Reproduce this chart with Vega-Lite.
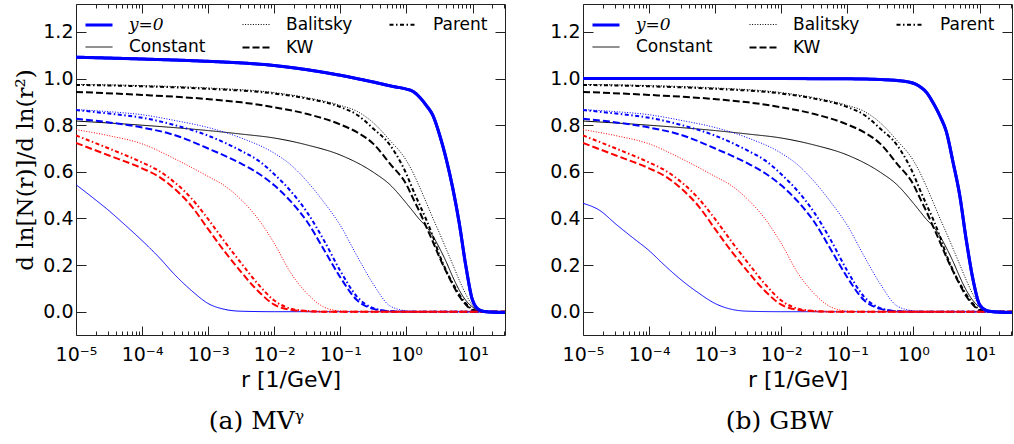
{
  "$schema": "https://vega.github.io/schema/vega-lite/v6.json",
  "background": "white",
  "padding": {"left": 14, "top": 3, "right": 3, "bottom": 4},
  "bounds": "flush",
  "spacing": 78,
  "resolve": {"scale": {"color": "independent", "strokeDash": "independent", "strokeWidth": "independent"}},
  "config": {
    "view": {"stroke": "#222222", "strokeWidth": 1},
    "axis": {"grid": false, "domain": false, "tickColor": "#222222", "tickWidth": 1, "labelFont": "DejaVu Sans", "labelFontSize": 19, "labelColor": "black", "titleColor": "black", "titleFontWeight": "normal", "labelFlush": false, "labelOverlap": false},
    "legend": {"orient": "none", "legendX": 8, "legendY": 6, "columns": 3, "columnPadding": 32, "rowPadding": -16, "padding": 0, "symbolType": "stroke", "symbolSize": 729, "symbolStrokeColor": "black", "labelFont": "DejaVu Sans", "labelFontSize": 17, "labelColor": "black", "labelOffset": 15}
  },
  "datasets": {
    "d": [
      {"p":"ab","c":"k","m":"Constant","r":0.00001,"v":0.818},
      {"p":"ab","c":"k","m":"Constant","r":0.0001,"v":0.800},
      {"p":"ab","c":"k","m":"Constant","r":0.001,"v":0.777},
      {"p":"ab","c":"k","m":"Constant","r":0.003162,"v":0.762},
      {"p":"ab","c":"k","m":"Constant","r":0.01,"v":0.745},
      {"p":"ab","c":"k","m":"Constant","r":0.03162,"v":0.715},
      {"p":"ab","c":"k","m":"Constant","r":0.1,"v":0.672},
      {"p":"ab","c":"k","m":"Constant","r":0.3162,"v":0.598},
      {"p":"ab","c":"k","m":"Constant","r":0.5623,"v":0.545},
      {"p":"ab","c":"k","m":"Constant","r":1,"v":0.465},
      {"p":"ab","c":"k","m":"Constant","r":1.259,"v":0.43},
      {"p":"ab","c":"k","m":"Constant","r":1.585,"v":0.395},
      {"p":"ab","c":"k","m":"Constant","r":1.995,"v":0.365},
      {"p":"ab","c":"k","m":"Constant","r":2.512,"v":0.325},
      {"p":"ab","c":"k","m":"Constant","r":3.162,"v":0.273},
      {"p":"ab","c":"k","m":"Constant","r":3.981,"v":0.215},
      {"p":"ab","c":"k","m":"Constant","r":5.012,"v":0.15},
      {"p":"ab","c":"k","m":"Constant","r":6.31,"v":0.092},
      {"p":"ab","c":"k","m":"Constant","r":7.943,"v":0.048},
      {"p":"ab","c":"k","m":"Constant","r":10,"v":0.02},
      {"p":"ab","c":"k","m":"Constant","r":12.59,"v":0.005},
      {"p":"ab","c":"k","m":"Constant","r":15.85,"v":0},
      {"p":"ab","c":"k","m":"Constant","r":31,"v":0},

      {"p":"ab","c":"k","m":"Balitsky","r":0.00001,"v":0.975},
      {"p":"ab","c":"k","m":"Balitsky","r":0.0001,"v":0.970},
      {"p":"ab","c":"k","m":"Balitsky","r":0.001,"v":0.960},
      {"p":"ab","c":"k","m":"Balitsky","r":0.01,"v":0.940},
      {"p":"ab","c":"k","m":"Balitsky","r":0.03162,"v":0.918},
      {"p":"ab","c":"k","m":"Balitsky","r":0.1,"v":0.885},
      {"p":"ab","c":"k","m":"Balitsky","r":0.1778,"v":0.86},
      {"p":"ab","c":"k","m":"Balitsky","r":0.3162,"v":0.81},
      {"p":"ab","c":"k","m":"Balitsky","r":0.5623,"v":0.735},
      {"p":"ab","c":"k","m":"Balitsky","r":1,"v":0.648},
      {"p":"ab","c":"k","m":"Balitsky","r":1.259,"v":0.596},
      {"p":"ab","c":"k","m":"Balitsky","r":1.585,"v":0.534},
      {"p":"ab","c":"k","m":"Balitsky","r":1.995,"v":0.469},
      {"p":"ab","c":"k","m":"Balitsky","r":2.512,"v":0.401},
      {"p":"ab","c":"k","m":"Balitsky","r":3.162,"v":0.337},
      {"p":"ab","c":"k","m":"Balitsky","r":3.981,"v":0.27},
      {"p":"ab","c":"k","m":"Balitsky","r":5.012,"v":0.203},
      {"p":"ab","c":"k","m":"Balitsky","r":6.31,"v":0.135},
      {"p":"ab","c":"k","m":"Balitsky","r":7.943,"v":0.074},
      {"p":"ab","c":"k","m":"Balitsky","r":10,"v":0.027},
      {"p":"ab","c":"k","m":"Balitsky","r":12.59,"v":0.004},
      {"p":"ab","c":"k","m":"Balitsky","r":15.85,"v":0},
      {"p":"ab","c":"k","m":"Balitsky","r":31,"v":0},

      {"p":"ab","c":"k","m":"Parent","r":0.00001,"v":0.973},
      {"p":"ab","c":"k","m":"Parent","r":0.0001,"v":0.967},
      {"p":"ab","c":"k","m":"Parent","r":0.001,"v":0.956},
      {"p":"ab","c":"k","m":"Parent","r":0.01,"v":0.936},
      {"p":"ab","c":"k","m":"Parent","r":0.03162,"v":0.914},
      {"p":"ab","c":"k","m":"Parent","r":0.1,"v":0.878},
      {"p":"ab","c":"k","m":"Parent","r":0.1778,"v":0.845},
      {"p":"ab","c":"k","m":"Parent","r":0.3162,"v":0.785},
      {"p":"ab","c":"k","m":"Parent","r":0.5623,"v":0.715},
      {"p":"ab","c":"k","m":"Parent","r":1,"v":0.59},
      {"p":"ab","c":"k","m":"Parent","r":1.259,"v":0.522},
      {"p":"ab","c":"k","m":"Parent","r":1.585,"v":0.458},
      {"p":"ab","c":"k","m":"Parent","r":1.995,"v":0.395},
      {"p":"ab","c":"k","m":"Parent","r":2.512,"v":0.323},
      {"p":"ab","c":"k","m":"Parent","r":3.162,"v":0.243},
      {"p":"ab","c":"k","m":"Parent","r":3.981,"v":0.177},
      {"p":"ab","c":"k","m":"Parent","r":5.012,"v":0.122},
      {"p":"ab","c":"k","m":"Parent","r":6.31,"v":0.074},
      {"p":"ab","c":"k","m":"Parent","r":7.943,"v":0.035},
      {"p":"ab","c":"k","m":"Parent","r":10,"v":0.01},
      {"p":"ab","c":"k","m":"Parent","r":12.59,"v":0.002},
      {"p":"ab","c":"k","m":"Parent","r":15.85,"v":0},
      {"p":"ab","c":"k","m":"Parent","r":31,"v":0},

      {"p":"ab","c":"k","m":"KW","r":0.00001,"v":0.943},
      {"p":"ab","c":"k","m":"KW","r":0.0001,"v":0.930},
      {"p":"ab","c":"k","m":"KW","r":0.001,"v":0.912},
      {"p":"ab","c":"k","m":"KW","r":0.003162,"v":0.898},
      {"p":"ab","c":"k","m":"KW","r":0.01,"v":0.877},
      {"p":"ab","c":"k","m":"KW","r":0.03162,"v":0.848},
      {"p":"ab","c":"k","m":"KW","r":0.1,"v":0.803},
      {"p":"ab","c":"k","m":"KW","r":0.1778,"v":0.77},
      {"p":"ab","c":"k","m":"KW","r":0.3162,"v":0.72},
      {"p":"ab","c":"k","m":"KW","r":0.5623,"v":0.635},
      {"p":"ab","c":"k","m":"KW","r":1,"v":0.545},
      {"p":"ab","c":"k","m":"KW","r":1.259,"v":0.486},
      {"p":"ab","c":"k","m":"KW","r":1.585,"v":0.428},
      {"p":"ab","c":"k","m":"KW","r":1.995,"v":0.364},
      {"p":"ab","c":"k","m":"KW","r":2.512,"v":0.30},
      {"p":"ab","c":"k","m":"KW","r":3.162,"v":0.233},
      {"p":"ab","c":"k","m":"KW","r":3.981,"v":0.173},
      {"p":"ab","c":"k","m":"KW","r":5.012,"v":0.117},
      {"p":"ab","c":"k","m":"KW","r":6.31,"v":0.066},
      {"p":"ab","c":"k","m":"KW","r":7.943,"v":0.03},
      {"p":"ab","c":"k","m":"KW","r":10,"v":0.006},
      {"p":"ab","c":"k","m":"KW","r":12.59,"v":0.001},
      {"p":"ab","c":"k","m":"KW","r":15.85,"v":0},
      {"p":"ab","c":"k","m":"KW","r":31,"v":0},

      {"p":"a","c":"b","m":"Constant","r":0.00001,"v":0.545},
      {"p":"a","c":"b","m":"Constant","r":0.00001778,"v":0.49},
      {"p":"a","c":"b","m":"Constant","r":0.00003162,"v":0.433},
      {"p":"a","c":"b","m":"Constant","r":0.00005623,"v":0.37},
      {"p":"a","c":"b","m":"Constant","r":0.0001,"v":0.305},
      {"p":"a","c":"b","m":"Constant","r":0.0001778,"v":0.235},
      {"p":"a","c":"b","m":"Constant","r":0.0003162,"v":0.157},
      {"p":"a","c":"b","m":"Constant","r":0.0005623,"v":0.09},
      {"p":"a","c":"b","m":"Constant","r":0.001,"v":0.035},
      {"p":"a","c":"b","m":"Constant","r":0.001778,"v":0.01},
      {"p":"a","c":"b","m":"Constant","r":0.003162,"v":0.002},
      {"p":"a","c":"b","m":"Constant","r":0.01,"v":0},
      {"p":"a","c":"b","m":"Constant","r":31,"v":0},

      {"p":"b","c":"b","m":"Constant","r":0.00001,"v":0.465},
      {"p":"b","c":"b","m":"Constant","r":0.00001778,"v":0.435},
      {"p":"b","c":"b","m":"Constant","r":0.00003162,"v":0.375},
      {"p":"b","c":"b","m":"Constant","r":0.00005623,"v":0.318},
      {"p":"b","c":"b","m":"Constant","r":0.0001,"v":0.262},
      {"p":"b","c":"b","m":"Constant","r":0.0001778,"v":0.195},
      {"p":"b","c":"b","m":"Constant","r":0.0003162,"v":0.133},
      {"p":"b","c":"b","m":"Constant","r":0.0005623,"v":0.08},
      {"p":"b","c":"b","m":"Constant","r":0.001,"v":0.035},
      {"p":"b","c":"b","m":"Constant","r":0.001778,"v":0.01},
      {"p":"b","c":"b","m":"Constant","r":0.003162,"v":0.002},
      {"p":"b","c":"b","m":"Constant","r":0.01,"v":0},
      {"p":"b","c":"b","m":"Constant","r":31,"v":0},

      {"p":"ab","c":"b","m":"Balitsky","r":0.00001,"v":0.867},
      {"p":"ab","c":"b","m":"Balitsky","r":0.00003162,"v":0.858},
      {"p":"ab","c":"b","m":"Balitsky","r":0.0001,"v":0.845},
      {"p":"ab","c":"b","m":"Balitsky","r":0.0003162,"v":0.82},
      {"p":"ab","c":"b","m":"Balitsky","r":0.001,"v":0.79},
      {"p":"ab","c":"b","m":"Balitsky","r":0.003162,"v":0.745},
      {"p":"ab","c":"b","m":"Balitsky","r":0.01,"v":0.68},
      {"p":"ab","c":"b","m":"Balitsky","r":0.01778,"v":0.63},
      {"p":"ab","c":"b","m":"Balitsky","r":0.03162,"v":0.558},
      {"p":"ab","c":"b","m":"Balitsky","r":0.05623,"v":0.47},
      {"p":"ab","c":"b","m":"Balitsky","r":0.1,"v":0.37},
      {"p":"ab","c":"b","m":"Balitsky","r":0.1778,"v":0.24},
      {"p":"ab","c":"b","m":"Balitsky","r":0.3162,"v":0.118},
      {"p":"ab","c":"b","m":"Balitsky","r":0.5623,"v":0.025},
      {"p":"ab","c":"b","m":"Balitsky","r":1,"v":0.004},
      {"p":"ab","c":"b","m":"Balitsky","r":1.995,"v":0},
      {"p":"ab","c":"b","m":"Balitsky","r":31,"v":0},

      {"p":"ab","c":"b","m":"Parent","r":0.00001,"v":0.865},
      {"p":"ab","c":"b","m":"Parent","r":0.00003162,"v":0.85},
      {"p":"ab","c":"b","m":"Parent","r":0.0001,"v":0.832},
      {"p":"ab","c":"b","m":"Parent","r":0.0003162,"v":0.80},
      {"p":"ab","c":"b","m":"Parent","r":0.001,"v":0.755},
      {"p":"ab","c":"b","m":"Parent","r":0.003162,"v":0.69},
      {"p":"ab","c":"b","m":"Parent","r":0.005623,"v":0.65},
      {"p":"ab","c":"b","m":"Parent","r":0.01,"v":0.59},
      {"p":"ab","c":"b","m":"Parent","r":0.01778,"v":0.517},
      {"p":"ab","c":"b","m":"Parent","r":0.03162,"v":0.425},
      {"p":"ab","c":"b","m":"Parent","r":0.05623,"v":0.307},
      {"p":"ab","c":"b","m":"Parent","r":0.1,"v":0.175},
      {"p":"ab","c":"b","m":"Parent","r":0.1778,"v":0.065},
      {"p":"ab","c":"b","m":"Parent","r":0.3162,"v":0.015},
      {"p":"ab","c":"b","m":"Parent","r":0.5623,"v":0.002},
      {"p":"ab","c":"b","m":"Parent","r":1,"v":0},
      {"p":"ab","c":"b","m":"Parent","r":31,"v":0},

      {"p":"ab","c":"b","m":"KW","r":0.00001,"v":0.828},
      {"p":"ab","c":"b","m":"KW","r":0.00003162,"v":0.812},
      {"p":"ab","c":"b","m":"KW","r":0.0001,"v":0.79},
      {"p":"ab","c":"b","m":"KW","r":0.0003162,"v":0.757},
      {"p":"ab","c":"b","m":"KW","r":0.001,"v":0.70},
      {"p":"ab","c":"b","m":"KW","r":0.003162,"v":0.635},
      {"p":"ab","c":"b","m":"KW","r":0.005623,"v":0.595},
      {"p":"ab","c":"b","m":"KW","r":0.01,"v":0.542},
      {"p":"ab","c":"b","m":"KW","r":0.01778,"v":0.473},
      {"p":"ab","c":"b","m":"KW","r":0.03162,"v":0.385},
      {"p":"ab","c":"b","m":"KW","r":0.05623,"v":0.267},
      {"p":"ab","c":"b","m":"KW","r":0.1,"v":0.147},
      {"p":"ab","c":"b","m":"KW","r":0.1778,"v":0.05},
      {"p":"ab","c":"b","m":"KW","r":0.3162,"v":0.012},
      {"p":"ab","c":"b","m":"KW","r":0.5623,"v":0.002},
      {"p":"ab","c":"b","m":"KW","r":1,"v":0},
      {"p":"ab","c":"b","m":"KW","r":31,"v":0},

      {"p":"ab","c":"r","m":"Balitsky","r":0.00001,"v":0.781},
      {"p":"ab","c":"r","m":"Balitsky","r":0.00003162,"v":0.755},
      {"p":"ab","c":"r","m":"Balitsky","r":0.0001,"v":0.72},
      {"p":"ab","c":"r","m":"Balitsky","r":0.0003162,"v":0.655},
      {"p":"ab","c":"r","m":"Balitsky","r":0.001,"v":0.58},
      {"p":"ab","c":"r","m":"Balitsky","r":0.001778,"v":0.54},
      {"p":"ab","c":"r","m":"Balitsky","r":0.003162,"v":0.48},
      {"p":"ab","c":"r","m":"Balitsky","r":0.005623,"v":0.40},
      {"p":"ab","c":"r","m":"Balitsky","r":0.01,"v":0.293},
      {"p":"ab","c":"r","m":"Balitsky","r":0.01778,"v":0.166},
      {"p":"ab","c":"r","m":"Balitsky","r":0.03162,"v":0.077},
      {"p":"ab","c":"r","m":"Balitsky","r":0.05623,"v":0.02},
      {"p":"ab","c":"r","m":"Balitsky","r":0.1,"v":0.003},
      {"p":"ab","c":"r","m":"Balitsky","r":0.1778,"v":0},
      {"p":"ab","c":"r","m":"Balitsky","r":31,"v":0},

      {"p":"ab","c":"r","m":"Parent","r":0.00001,"v":0.756},
      {"p":"ab","c":"r","m":"Parent","r":0.00003162,"v":0.70},
      {"p":"ab","c":"r","m":"Parent","r":0.0001,"v":0.64},
      {"p":"ab","c":"r","m":"Parent","r":0.0001778,"v":0.605},
      {"p":"ab","c":"r","m":"Parent","r":0.0003162,"v":0.553},
      {"p":"ab","c":"r","m":"Parent","r":0.0005623,"v":0.485},
      {"p":"ab","c":"r","m":"Parent","r":0.001,"v":0.397},
      {"p":"ab","c":"r","m":"Parent","r":0.001778,"v":0.30},
      {"p":"ab","c":"r","m":"Parent","r":0.003162,"v":0.208},
      {"p":"ab","c":"r","m":"Parent","r":0.005623,"v":0.12},
      {"p":"ab","c":"r","m":"Parent","r":0.01,"v":0.048},
      {"p":"ab","c":"r","m":"Parent","r":0.01778,"v":0.013},
      {"p":"ab","c":"r","m":"Parent","r":0.03162,"v":0.003},
      {"p":"ab","c":"r","m":"Parent","r":0.05623,"v":0},
      {"p":"ab","c":"r","m":"Parent","r":31,"v":0},

      {"p":"ab","c":"r","m":"KW","r":0.00001,"v":0.724},
      {"p":"ab","c":"r","m":"KW","r":0.00003162,"v":0.67},
      {"p":"ab","c":"r","m":"KW","r":0.0001,"v":0.615},
      {"p":"ab","c":"r","m":"KW","r":0.0001778,"v":0.58},
      {"p":"ab","c":"r","m":"KW","r":0.0003162,"v":0.525},
      {"p":"ab","c":"r","m":"KW","r":0.0005623,"v":0.452},
      {"p":"ab","c":"r","m":"KW","r":0.001,"v":0.354},
      {"p":"ab","c":"r","m":"KW","r":0.001778,"v":0.258},
      {"p":"ab","c":"r","m":"KW","r":0.003162,"v":0.17},
      {"p":"ab","c":"r","m":"KW","r":0.005623,"v":0.09},
      {"p":"ab","c":"r","m":"KW","r":0.01,"v":0.03},
      {"p":"ab","c":"r","m":"KW","r":0.01778,"v":0.008},
      {"p":"ab","c":"r","m":"KW","r":0.03162,"v":0.002},
      {"p":"ab","c":"r","m":"KW","r":0.05623,"v":0},
      {"p":"ab","c":"r","m":"KW","r":31,"v":0},

      {"p":"a","c":"y","m":"y=0","r":0.00001,"v":1.092},
      {"p":"a","c":"y","m":"y=0","r":0.0001,"v":1.084},
      {"p":"a","c":"y","m":"y=0","r":0.001,"v":1.074},
      {"p":"a","c":"y","m":"y=0","r":0.01,"v":1.056},
      {"p":"a","c":"y","m":"y=0","r":0.03162,"v":1.038},
      {"p":"a","c":"y","m":"y=0","r":0.1,"v":1.014},
      {"p":"a","c":"y","m":"y=0","r":0.3162,"v":0.985},
      {"p":"a","c":"y","m":"y=0","r":0.631,"v":0.966},
      {"p":"a","c":"y","m":"y=0","r":1,"v":0.955},
      {"p":"a","c":"y","m":"y=0","r":1.259,"v":0.945},
      {"p":"a","c":"y","m":"y=0","r":1.585,"v":0.92},
      {"p":"a","c":"y","m":"y=0","r":1.995,"v":0.885},
      {"p":"a","c":"y","m":"y=0","r":2.512,"v":0.842},
      {"p":"a","c":"y","m":"y=0","r":3.162,"v":0.76},
      {"p":"a","c":"y","m":"y=0","r":3.981,"v":0.657},
      {"p":"a","c":"y","m":"y=0","r":5.012,"v":0.531},
      {"p":"a","c":"y","m":"y=0","r":6.31,"v":0.378},
      {"p":"a","c":"y","m":"y=0","r":7.943,"v":0.194},
      {"p":"a","c":"y","m":"y=0","r":10,"v":0.05},
      {"p":"a","c":"y","m":"y=0","r":12.59,"v":0.008},
      {"p":"a","c":"y","m":"y=0","r":15.85,"v":0},
      {"p":"a","c":"y","m":"y=0","r":31,"v":-0.004},

      {"p":"b","c":"y","m":"y=0","r":0.00001,"v":1.0},
      {"p":"b","c":"y","m":"y=0","r":0.01,"v":1.0},
      {"p":"b","c":"y","m":"y=0","r":0.1,"v":0.999},
      {"p":"b","c":"y","m":"y=0","r":0.3162,"v":0.996},
      {"p":"b","c":"y","m":"y=0","r":0.5623,"v":0.992},
      {"p":"b","c":"y","m":"y=0","r":1,"v":0.98},
      {"p":"b","c":"y","m":"y=0","r":1.259,"v":0.965},
      {"p":"b","c":"y","m":"y=0","r":1.585,"v":0.94},
      {"p":"b","c":"y","m":"y=0","r":1.995,"v":0.895},
      {"p":"b","c":"y","m":"y=0","r":2.512,"v":0.84},
      {"p":"b","c":"y","m":"y=0","r":3.162,"v":0.77},
      {"p":"b","c":"y","m":"y=0","r":3.981,"v":0.64},
      {"p":"b","c":"y","m":"y=0","r":5.012,"v":0.50},
      {"p":"b","c":"y","m":"y=0","r":6.31,"v":0.306},
      {"p":"b","c":"y","m":"y=0","r":7.943,"v":0.14},
      {"p":"b","c":"y","m":"y=0","r":10,"v":0.031},
      {"p":"b","c":"y","m":"y=0","r":12.59,"v":0.006},
      {"p":"b","c":"y","m":"y=0","r":15.85,"v":0},
      {"p":"b","c":"y","m":"y=0","r":31,"v":-0.004}
    ]
  },
  "hconcat": [
    {
      "width": 429,
      "height": 331,
      "title": {"text": "(a) MVᵞ", "orient": "bottom", "font": "DejaVu Serif", "fontSize": 25, "fontWeight": "normal", "color": "black", "anchor": "middle", "frame": "group", "dx": -34, "offset": 19},
      "data": {"name": "d"},
      "transform": [{"filter": "indexof(datum.p, 'a') >= 0"}],
      "resolve": {"axis": {"x": "independent", "y": "independent"}},
      "layer": [
        {
          "mark": {"type": "line", "interpolate": "monotone", "clip": true},
          "encoding": {
            "x": {"field": "r", "type": "quantitative",
              "scale": {"type": "log", "domain": [0.00001, 31], "nice": false},
              "axis": {"orient": "bottom",
                "values": [0.00001,0.00002,0.00003,0.00004,0.00005,0.00006,0.00007,0.00008,0.00009,0.0001,0.0002,0.0003,0.0004,0.0005,0.0006,0.0007,0.0008,0.0009,0.001,0.002,0.003,0.004,0.005,0.006,0.007,0.008,0.009,0.01,0.02,0.03,0.04,0.05,0.06,0.07,0.08,0.09,0.1,0.2,0.3,0.4,0.5,0.6,0.7,0.8,0.9,1,2,3,4,5,6,7,8,9,10,20,30],
                "tickSize": {"condition": {"test": "indexof([0.00001,0.0001,0.001,0.01,0.1,1,10], datum.value) >= 0", "value": -9}, "value": -4},
                "labelExpr": "indexof([0.00001,0.0001,0.001,0.01,0.1,1,10], datum.value) >= 0 ? ['10⁻⁵','10⁻⁴','10⁻³','10⁻²','10⁻¹','10⁰','10¹'][indexof([0.00001,0.0001,0.001,0.01,0.1,1,10], datum.value)] : ''",
                "labelPadding": 19,
                "title": "r [1/GeV]", "titleFont": "DejaVu Sans", "titleFontSize": 22, "titlePadding": 0}},
            "y": {"field": "v", "type": "quantitative",
              "scale": {"domain": [-0.1, 1.32], "nice": false, "zero": false},
              "axis": {"orient": "left", "values": [0,0.2,0.4,0.6,0.8,1,1.2], "format": ".1f", "tickSize": -10, "labelPadding": 13,
                "title": "d ln[N(r)]/d ln(r²)", "titleFont": "DejaVu Serif", "titleFontSize": 23, "titlePadding": 5}},
            "color": {"field": "c", "type": "nominal", "scale": {"domain": ["y","k","b","r"], "range": ["#0000ff","#000000","#0000ff","#ff0000"]}, "legend": null},
            "strokeDash": {"field": "m", "type": "nominal",
              "scale": {"domain": ["y=0","Constant","Balitsky","KW","Parent"], "range": [[1,0],[1,0],[1,1.6],[7,3],[4,2.5,1.5,2.5]]},
              "legend": {"title": null,
                "encoding": {
                  "symbols": {"stroke": {"condition": {"test": "datum.value === 'y=0'", "value": "#0000ff"}, "value": "black"}},
                  "labels": {"font": {"condition": {"test": "datum.value === 'y=0'", "value": "DejaVu Serif"}, "value": "DejaVu Sans"},
                             "fontStyle": {"condition": {"test": "datum.value === 'y=0'", "value": "italic"}, "value": "normal"}}}}},
            "strokeWidth": {"field": "m", "type": "nominal",
              "scale": {"type": "ordinal", "domain": ["y=0","Constant","Balitsky","KW","Parent"], "range": [3,1,1,2,2]},
              "legend": {"title": null}}
          }
        },
        {
          "transform": [{"filter": "datum.m === 'y=0'"}],
          "mark": {"type": "line", "interpolate": "monotone", "clip": true, "color": "#0000ff", "strokeWidth": 3},
          "encoding": {
            "x": {"field": "r", "type": "quantitative",
              "axis": {"orient": "top",
                "values": [0.00001,0.00002,0.00003,0.00004,0.00005,0.00006,0.00007,0.00008,0.00009,0.0001,0.0002,0.0003,0.0004,0.0005,0.0006,0.0007,0.0008,0.0009,0.001,0.002,0.003,0.004,0.005,0.006,0.007,0.008,0.009,0.01,0.02,0.03,0.04,0.05,0.06,0.07,0.08,0.09,0.1,0.2,0.3,0.4,0.5,0.6,0.7,0.8,0.9,1,2,3,4,5,6,7,8,9,10,20,30],
                "tickSize": {"condition": {"test": "indexof([0.00001,0.0001,0.001,0.01,0.1,1,10], datum.value) >= 0", "value": -9}, "value": -4},
                "labels": false, "title": null}},
            "y": {"field": "v", "type": "quantitative",
              "axis": {"orient": "right", "values": [0,0.2,0.4,0.6,0.8,1,1.2], "tickSize": -10, "labels": false, "title": null}}
          }
        }
      ]
    },
    {
      "width": 429,
      "height": 331,
      "title": {"text": "(b) GBW", "orient": "bottom", "font": "DejaVu Serif", "fontSize": 25, "fontWeight": "normal", "color": "black", "anchor": "middle", "frame": "group", "dx": -18, "offset": 19},
      "data": {"name": "d"},
      "transform": [{"filter": "indexof(datum.p, 'b') >= 0"}],
      "resolve": {"axis": {"x": "independent", "y": "independent"}},
      "layer": [
        {
          "mark": {"type": "line", "interpolate": "monotone", "clip": true},
          "encoding": {
            "x": {"field": "r", "type": "quantitative",
              "scale": {"type": "log", "domain": [0.00001, 31], "nice": false},
              "axis": {"orient": "bottom",
                "values": [0.00001,0.00002,0.00003,0.00004,0.00005,0.00006,0.00007,0.00008,0.00009,0.0001,0.0002,0.0003,0.0004,0.0005,0.0006,0.0007,0.0008,0.0009,0.001,0.002,0.003,0.004,0.005,0.006,0.007,0.008,0.009,0.01,0.02,0.03,0.04,0.05,0.06,0.07,0.08,0.09,0.1,0.2,0.3,0.4,0.5,0.6,0.7,0.8,0.9,1,2,3,4,5,6,7,8,9,10,20,30],
                "tickSize": {"condition": {"test": "indexof([0.00001,0.0001,0.001,0.01,0.1,1,10], datum.value) >= 0", "value": -9}, "value": -4},
                "labelExpr": "indexof([0.00001,0.0001,0.001,0.01,0.1,1,10], datum.value) >= 0 ? ['10⁻⁵','10⁻⁴','10⁻³','10⁻²','10⁻¹','10⁰','10¹'][indexof([0.00001,0.0001,0.001,0.01,0.1,1,10], datum.value)] : ''",
                "labelPadding": 19,
                "title": "r [1/GeV]", "titleFont": "DejaVu Sans", "titleFontSize": 22, "titlePadding": 0}},
            "y": {"field": "v", "type": "quantitative",
              "scale": {"domain": [-0.1, 1.32], "nice": false, "zero": false},
              "axis": {"orient": "left", "values": [0,0.2,0.4,0.6,0.8,1,1.2], "format": ".1f", "tickSize": -10, "labelPadding": 13, "title": null}},
            "color": {"field": "c", "type": "nominal", "scale": {"domain": ["y","k","b","r"], "range": ["#0000ff","#000000","#0000ff","#ff0000"]}, "legend": null},
            "strokeDash": {"field": "m", "type": "nominal",
              "scale": {"domain": ["y=0","Constant","Balitsky","KW","Parent"], "range": [[1,0],[1,0],[1,1.6],[7,3],[4,2.5,1.5,2.5]]},
              "legend": {"title": null,
                "encoding": {
                  "symbols": {"stroke": {"condition": {"test": "datum.value === 'y=0'", "value": "#0000ff"}, "value": "black"}},
                  "labels": {"font": {"condition": {"test": "datum.value === 'y=0'", "value": "DejaVu Serif"}, "value": "DejaVu Sans"},
                             "fontStyle": {"condition": {"test": "datum.value === 'y=0'", "value": "italic"}, "value": "normal"}}}}},
            "strokeWidth": {"field": "m", "type": "nominal",
              "scale": {"type": "ordinal", "domain": ["y=0","Constant","Balitsky","KW","Parent"], "range": [3,1,1,2,2]},
              "legend": {"title": null}}
          }
        },
        {
          "transform": [{"filter": "datum.m === 'y=0'"}],
          "mark": {"type": "line", "interpolate": "monotone", "clip": true, "color": "#0000ff", "strokeWidth": 3},
          "encoding": {
            "x": {"field": "r", "type": "quantitative",
              "axis": {"orient": "top",
                "values": [0.00001,0.00002,0.00003,0.00004,0.00005,0.00006,0.00007,0.00008,0.00009,0.0001,0.0002,0.0003,0.0004,0.0005,0.0006,0.0007,0.0008,0.0009,0.001,0.002,0.003,0.004,0.005,0.006,0.007,0.008,0.009,0.01,0.02,0.03,0.04,0.05,0.06,0.07,0.08,0.09,0.1,0.2,0.3,0.4,0.5,0.6,0.7,0.8,0.9,1,2,3,4,5,6,7,8,9,10,20,30],
                "tickSize": {"condition": {"test": "indexof([0.00001,0.0001,0.001,0.01,0.1,1,10], datum.value) >= 0", "value": -9}, "value": -4},
                "labels": false, "title": null}},
            "y": {"field": "v", "type": "quantitative",
              "axis": {"orient": "right", "values": [0,0.2,0.4,0.6,0.8,1,1.2], "tickSize": -10, "labels": false, "title": null}}
          }
        }
      ]
    }
  ]
}
